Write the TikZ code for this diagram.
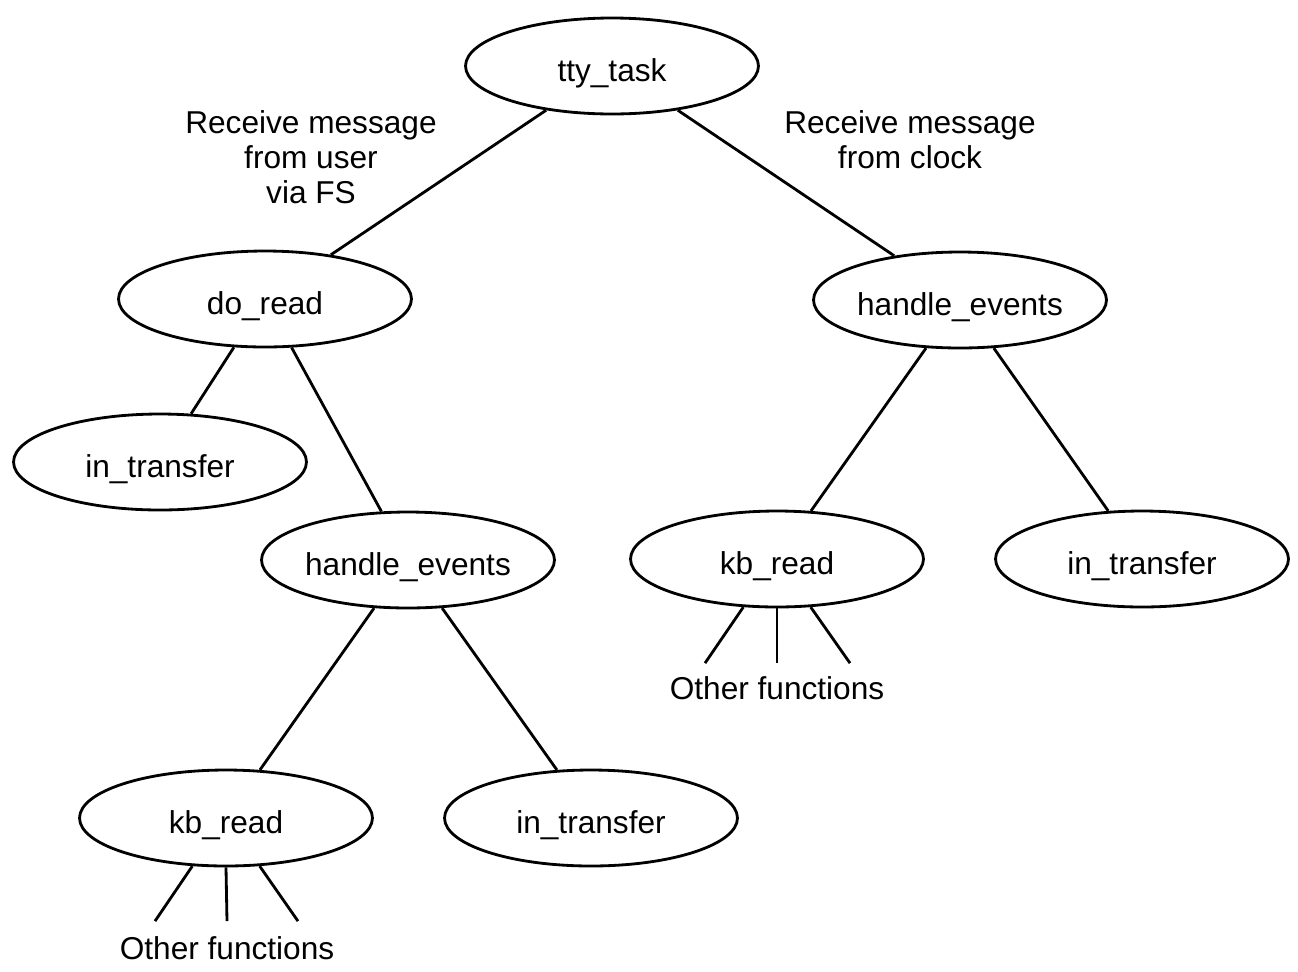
\documentclass[tikz,border=0pt]{standalone}
\usepackage{fontspec}
\setmainfont{Liberation Sans}
\usetikzlibrary{shapes.geometric}

\begin{document}
\begin{tikzpicture}[x=0.02cm, y=-0.02cm, line width=1.6pt,
  every node/.style={font=\fontsize{18}{20}\selectfont},
  fn/.style={draw, ellipse, minimum width=5.86cm, minimum height=1.92cm, inner sep=0pt,
    text height=17.5pt, text depth=0pt},
  lbl/.style={align=center}]
  \useasboundingbox (0,0) rectangle (1298,971);
  % top task
  \node[fn] (tty) at (612,66) {tty\_task};
  \node[lbl] (msgfs) at (311,157) {Receive message\\from user\\via FS};
  \node[lbl] (msgclk) at (910,140) {Receive message\\from clock};
  % left branch: message from FS
  \node[fn] (doread) at (265,299) {do\_read};
  \node[fn] (inxl) at (160,462) {in\_transfer};
  \node[fn] (hevm) at (408,560) {handle\_events};
  \node[fn] (kbb) at (226,818) {kb\_read};
  \node[fn] (inxb) at (591,818) {in\_transfer};
  \node (ofb) at (227,948) {Other functions};
  % right branch: message from clock
  \node[fn] (hevr) at (960,300) {handle\_events};
  \node[fn] (kbr) at (777,559) {kb\_read};
  \node[fn] (inxr) at (1142,559) {in\_transfer};
  \node (ofr) at (777,688) {Other functions};
  % tree edges
  \draw (tty) -- (doread);
  \draw (tty) -- (hevr);
  \draw (doread) -- (inxl);
  \draw (doread) -- (hevm);
  \draw (hevm) -- (kbb);
  \draw (hevm) -- (inxb);
  \draw (hevr) -- (kbr);
  \draw (hevr) -- (inxr);
  % fan-out to other functions
  \foreach \a/\dx in {235/-72, 270/0, 305/71}
    \draw (kbb.\a) -- ([xshift=\dx*0.02cm, yshift=0.16cm]ofb.north);
  \foreach \a/\dx in {235/-72, 270/0, 305/73}
    \draw (kbr.\a) -- ([xshift=\dx*0.02cm, yshift=0.12cm]ofr.north);
\end{tikzpicture}
\end{document}
